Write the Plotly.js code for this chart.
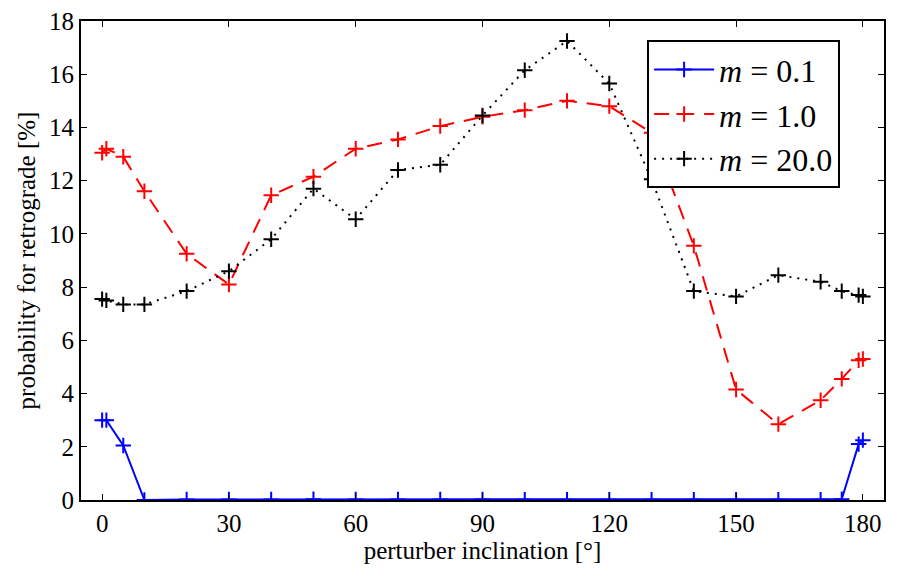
<!DOCTYPE html>
<html>
<head>
<meta charset="utf-8">
<script src="https://cdn.plot.ly/plotly-3.0.1.min.js"></script>
<style>
  html, body { margin: 0; padding: 0; background: #fff; }
  #chart { width: 899px; height: 580px; }
</style>
</head>
<body>
<div id="chart"></div>
<script>
// inclination of the perturber in degrees
const inclination = [0, 1, 5, 10, 20, 30, 40, 50, 60, 70, 80, 90, 100, 110, 120, 130, 140, 150, 160, 170, 175, 179, 180];

// retrograde probability [%] for each perturber mass
const m01 = [3.0, 3.0, 2.05, 0.0, 0.02, 0.02, 0.02, 0.03, 0.02, 0.02, 0.02, 0.02, 0.01, 0.01, 0.01, 0.01, 0.01, 0.01, 0.01, 0.01, 0.03, 2.1, 2.25];
const m10 = [13.05, 13.2, 12.9, 11.6, 9.25, 8.1, 11.45, 12.15, 13.2, 13.55, 14.05, 14.4, 14.65, 15.0, 14.8, 13.8, 9.55, 4.15, 2.85, 3.75, 4.55, 5.25, 5.3];
const m20 = [7.55, 7.5, 7.35, 7.35, 7.85, 8.6, 9.8, 11.7, 10.55, 12.4, 12.6, 14.45, 16.15, 17.25, 15.65, 12.05, 7.85, 7.65, 8.45, 8.2, 7.85, 7.7, 7.65];

const seriesNames = ['<i>m</i> = 0.1', '<i>m</i> = 1.0', '<i>m</i> = 20.0'];
const xTicks = [0, 30, 60, 90, 120, 150, 180];
const yTicks = [0, 2, 4, 6, 8, 10, 12, 14, 16, 18];

const serif = 'Liberation Serif';

function series(y, name, color, dash) {
    return {
        x: inclination,
        y: y,
        name: name,
        mode: 'lines+markers',
        line: { color: color, width: 2, dash: dash },
        marker: { symbol: 'cross-thin-open', size: 11, line: { color: color, width: 2 } },
        cliponaxis: true
    };
}

const traces = [
    series(m01, seriesNames[0], '#0000ff', 'solid'),
    series(m10, seriesNames[1], '#ff0000', '15px,10px'),
    series(m20, seriesNames[2], '#000000', '2px,6px')
];

const axisCommon = {
    showline: true,
    linecolor: '#000',
    linewidth: 2,
    mirror: 'ticks',
    ticks: 'inside',
    ticklen: 6,
    tickwidth: 1,
    tickcolor: '#000',
    showgrid: false,
    zeroline: false,
    tickfont: { family: serif, size: 25, color: '#000' }
};

const layout = {
    width: 899,
    height: 580,
    font: { family: serif, size: 25, color: '#000' },
    margin: { l: 81, r: 15, t: 21, b: 80 },
    paper_bgcolor: '#fff',
    plot_bgcolor: '#fff',
    showlegend: true,
    legend: {
        x: 0.705, y: 0.96, xanchor: 'left', yanchor: 'top',
        bgcolor: '#fff',
        bordercolor: '#000',
        borderwidth: 2,
        font: { family: serif, size: 32, color: '#000' },
        itemwidth: 60,
        tracegroupgap: 0
    },
    xaxis: Object.assign({}, axisCommon, {
        range: [-5, 185],
        tickvals: xTicks,
        ticktext: xTicks.map(String),
        title: { text: 'perturber inclination [°]', font: { family: serif, size: 25, color: '#000' }, standoff: 4 }
    }),
    yaxis: Object.assign({}, axisCommon, {
        range: [0, 18],
        tickvals: yTicks,
        ticktext: yTicks.map(String),
        title: { text: 'probability for retrograde [%]', font: { family: serif, size: 25, color: '#000' }, standoff: 6 }
    })
};

Plotly.newPlot('chart', traces, layout, { displayModeBar: false, staticPlot: true });
</script>
</body>
</html>
